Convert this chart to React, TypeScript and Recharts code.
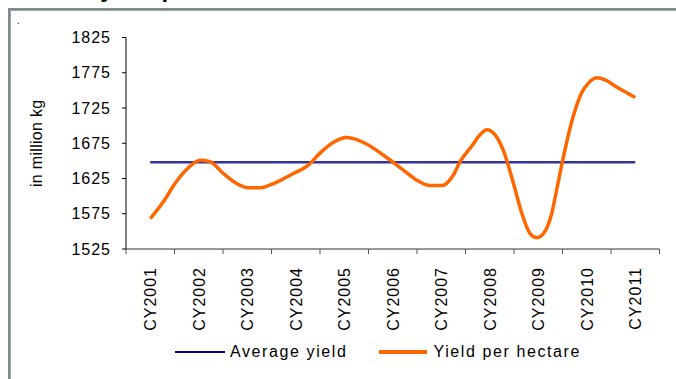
import React from 'react';
import { LineChart, Line, XAxis, YAxis, Legend } from 'recharts';

const years = ['CY2001', 'CY2002', 'CY2003', 'CY2004', 'CY2005', 'CY2006', 'CY2007', 'CY2008', 'CY2009', 'CY2010', 'CY2011'];
const periods = [1.0, 1.27, 1.51, 1.78, 2.03, 2.23, 2.51, 2.78, 3.02, 3.26, 3.61, 3.95, 4.26, 4.5, 4.77, 5.05, 5.46, 5.81, 6.22, 6.49, 6.77, 7.01, 7.25, 7.39, 7.63, 7.8, 7.94, 8.11, 8.28, 8.49, 8.66, 8.83, 8.97, 9.11, 9.28, 9.38, 9.52, 9.72, 9.89, 10.03, 10.21, 10.38, 10.59, 10.79, 11.0];
const yieldPerHectare = [1568, 1592, 1618, 1640, 1651, 1649, 1632, 1618, 1612, 1612, 1620, 1632, 1644, 1661, 1676, 1683, 1674, 1658, 1637, 1623, 1615, 1615, 1630, 1649, 1671, 1687, 1694, 1687, 1665, 1618, 1576, 1547, 1541, 1547, 1576, 1609, 1656, 1713, 1746, 1760, 1768, 1765, 1756, 1748, 1740];
const averageYield = 1648;
const yTicks = [1525, 1575, 1625, 1675, 1725, 1775, 1825];
const seriesNames = ['Average yield', 'Yield per hectare'];
const seriesColors = ['#333399', '#FF6600'];
const titleText = 'Tea yield per hectare';
const yAxisTitle = 'in million kg';

const W = 676;
const H = 379;
const MARGIN = { top: 37.5, right: 16.5, bottom: 0, left: 10 };
const Y_AXIS_W = 116;
const PLOT_W = W - MARGIN.left - MARGIN.right - Y_AXIS_W;
const HALF_BAND = PLOT_W / years.length / 2;
const FONT = 'Arial, "Liberation Sans", sans-serif';

const data = periods.map((t, i) => ({ t, yield: yieldPerHectare[i] }));
const avgData = [
  { t: 1, avg: averageYield },
  { t: years.length, avg: averageYield },
];
const boundaries = years.map((_, i) => i + 0.5).concat([years.length + 0.5]);

const XTick = (props: any) => {
  const { x, y, payload } = props;
  const idx = Math.round(payload.value - 0.5);
  if (idx < 0 || idx >= years.length) return <g />;
  return (
    <g transform={`translate(${x + HALF_BAND},${y})`}>
      <text
        transform="rotate(-90)"
        textAnchor="end"
        dy="0.36em"
        fontSize={16}
        letterSpacing={1}
        fill="#000"
        fontFamily={FONT}
      >
        {years[idx]}
      </text>
    </g>
  );
};

const YTitle = (props: any) => {
  const vb = props.viewBox || { x: MARGIN.left, y: MARGIN.top, width: Y_AXIS_W, height: 211.5 };
  const cx = vb.x + 32;
  const cy = vb.y + vb.height / 2;
  return (
    <text
      x={cx}
      y={cy}
      transform={`rotate(-90, ${cx}, ${cy})`}
      textAnchor="middle"
      fontSize={16}
      letterSpacing={0.3}
      fill="#000"
      fontFamily={FONT}
    >
      {yAxisTitle}
    </text>
  );
};

const LegendContent = () => (
  <div
    style={{
      display: 'flex',
      alignItems: 'center',
      paddingLeft: 175,
      height: 22,
      fontFamily: FONT,
      fontSize: 16,
      letterSpacing: 1.6,
      color: '#000',
    }}
  >
    <div style={{ width: 50, height: 2, background: '#000080', marginRight: 5 }} />
    <span style={{ marginRight: 32 }}>{seriesNames[0]}</span>
    <div style={{ width: 48, height: 4, background: seriesColors[1], marginRight: 6 }} />
    <span>{seriesNames[1]}</span>
  </div>
);

export default function App() {
  return (
    <div style={{ position: 'absolute', left: 0, top: 0, width: W, height: H, background: '#fff' }}>
      <svg width={W} height={H} style={{ position: 'absolute', left: 0, top: 0 }}>
        <text x={54} y={-3} fontSize={24} fontWeight="bold" fill="#000" fontFamily={FONT}>
          {titleText}
        </text>
        <rect x={8} y={8} width={W - 8} height={2} fill="#808b90" />
        <rect x={8} y={10} width={W - 8} height={1} fill="#9aa4a8" />
        <rect x={8} y={8} width={2} height={H - 8} fill="#808b90" />
        <rect x={10} y={11} width={1} height={H - 11} fill="#9aa4a8" />
        <text x={17} y={24} fontSize={10} fill="#000" fontFamily={FONT}>.</text>
      </svg>
      <div style={{ position: 'absolute', left: 0, top: 0 }}>
        <LineChart width={W} height={H} margin={MARGIN} style={{ fontFamily: FONT }}>
          <XAxis
            type="number"
            dataKey="t"
            domain={[0.5, years.length + 0.5]}
            ticks={boundaries}
            interval={0}
            allowDataOverflow
            height={H - MARGIN.top - 211.5 - MARGIN.bottom}
            tick={<XTick />}
            tickSize={5}
            tickMargin={13}
            stroke="#333"
            tickLine={{ stroke: '#555' }}
          />
          <YAxis
            type="number"
            domain={[1525, 1825]}
            ticks={yTicks}
            interval={0}
            width={Y_AXIS_W}
            tickSize={4}
            tickMargin={11}
            stroke="#000"
            tick={{ fontSize: 16, fill: '#000', letterSpacing: 1 }}
            label={<YTitle />}
          />
          <Line
            data={avgData}
            dataKey="avg"
            name={seriesNames[0]}
            stroke={seriesColors[0]}
            strokeWidth={2.5}
            dot={false}
            isAnimationActive={false}
          />
          <Line
            data={data}
            dataKey="yield"
            name={seriesNames[1]}
            type="monotone"
            stroke={seriesColors[1]}
            strokeWidth={3.5}
            dot={false}
            isAnimationActive={false}
          />
          <Legend
            layout="horizontal"
            verticalAlign="middle"
            align="center"
            content={<LegendContent />}
            wrapperStyle={{ top: 341, left: 0, width: W, height: 22 }}
          />
        </LineChart>
      </div>
    </div>
  );
}
